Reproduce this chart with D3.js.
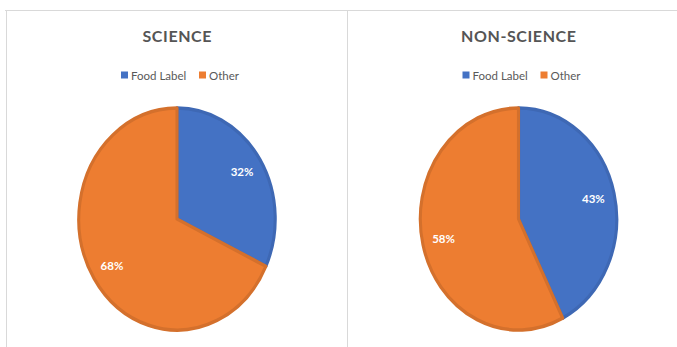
<!DOCTYPE html>
<html><head><meta charset="utf-8">
<script src="https://cdn.jsdelivr.net/npm/d3@7"></script>
<style>body{margin:0;background:#fff}svg{display:block}text{font-family:Lato,"Open Sans",sans-serif}</style>
</head><body>
<svg id="c" width="677" height="347"></svg>
<script>
const categories = ["Food Label", "Other"];
const chartTitles = ["SCIENCE", "NON-SCIENCE"];
const scienceValues = [32, 68];
const nonScienceValues = [43, 58];
const colors = ["#4472C4", "#ED7D31"];
const strokeColors = ["#3E68B4", "#D4702C"];

const svg = d3.select("#c");
// panel frame
svg.append("line").attr("x1",5).attr("x2",677).attr("y1",10.5).attr("y2",10.5).attr("stroke","#d9d9d9");
svg.append("line").attr("x1",6.5).attr("x2",6.5).attr("y1",10).attr("y2",347).attr("stroke","#d9d9d9");
svg.append("line").attr("x1",347.5).attr("x2",347.5).attr("y1",10).attr("y2",347).attr("stroke","#d9d9d9");

const panels = [
  {title: chartTitles[0], values: scienceValues, cx: 177},
  {title: chartTitles[1], values: nonScienceValues, cx: 518.5}
];
const R = 113, rx = 100, cy = 219;
const pie = d3.pie().sort(null).startAngle(0);
const arc = d3.arc().innerRadius(0).outerRadius(R - 2);
const labelArc = d3.arc().innerRadius(R*0.77).outerRadius(R*0.77);

panels.forEach(p => {
  const g = svg.append("g");
  g.append("text").attr("x", p.cx + 0.3).attr("y", 41.5).attr("text-anchor","middle")
    .attr("font-size", 16).attr("letter-spacing", 0.6).attr("font-weight","bold").attr("fill","#555555").text(p.title);
  // legend
  const lg = g.append("g").attr("font-size", 12).attr("fill","#595959");
  const legendX = [p.cx - 56, p.cx + 22];
  categories.forEach((c, i) => {
    lg.append("rect").attr("x", legendX[i]).attr("y", 71.5).attr("width", 7).attr("height", 7).attr("fill", colors[i]);
    lg.append("text").attr("x", legendX[i] + 10).attr("y", 79.5).attr("font-size", 11.5).text(c);
  });
  const arcs = pie(p.values);
  const pg = g.append("g").attr("transform", `translate(${p.cx},${cy}) scale(${rx/R},1)`);
  pg.selectAll("path").data(arcs).join("path").attr("d", arc)
    .attr("fill", (d,i)=>colors[i]).attr("stroke", (d,i)=>strokeColors[i]).attr("stroke-width", 3.5)
    .attr("stroke-linejoin","round");
  arcs.forEach((d,i) => {
    const [lx, ly] = labelArc.centroid(d);
    g.append("text").attr("x", p.cx + lx*rx/R).attr("y", cy + ly + 4).attr("text-anchor","middle")
      .attr("font-size", 11.5).attr("font-weight","bold").attr("fill","#fff").text(p.values[i] + "%");
  });
});
</script>
</body></html>
